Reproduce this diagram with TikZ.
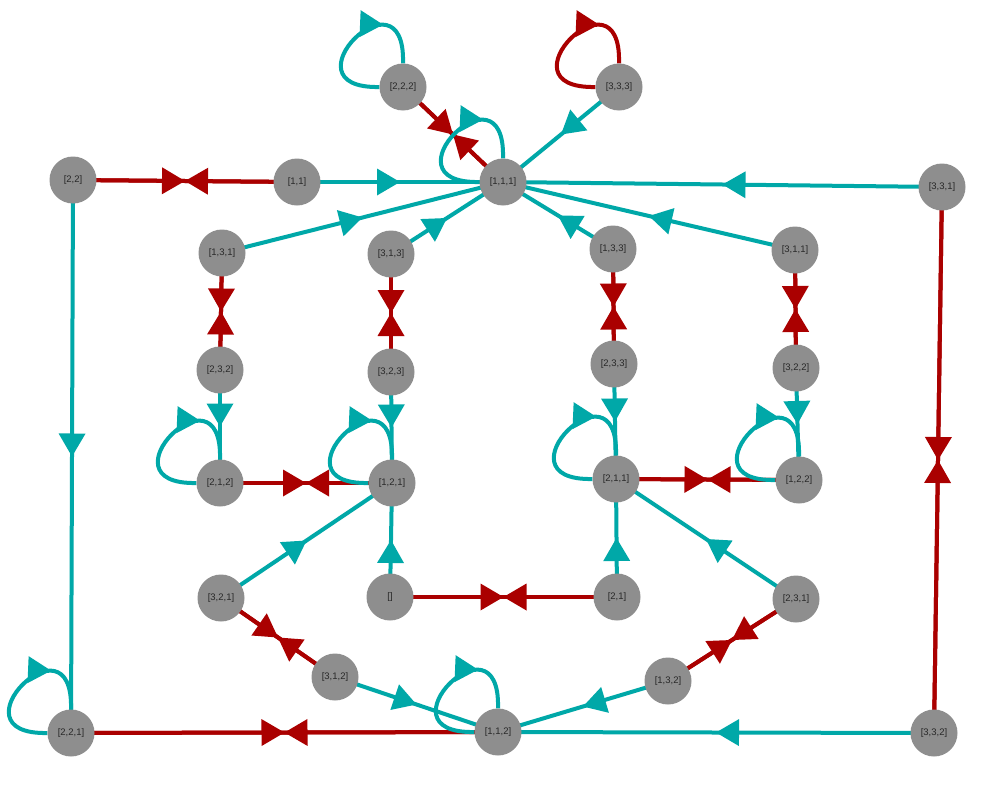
\documentclass[tikz,border=0pt]{standalone}
\usepackage{fontspec}
\setmainfont{Liberation Sans}
\usetikzlibrary{arrows.meta,decorations.markings,backgrounds,calc}
\definecolor{cy}{RGB}{0,168,168}
\definecolor{rd}{RGB}{170,0,0}
\definecolor{nd}{RGB}{142,142,142}
\definecolor{tx}{RGB}{40,40,40}
\tikzset{
  st/.style={circle, fill=nd, minimum size=47pt, inner sep=0pt,
    font=\fontsize{9.5}{10}\selectfont, text=tx},
  tipc/.style={decoration={markings, mark=at position #1 with {\arrow[cy]{Triangle[length=23pt,width=27pt,line width=0pt]}}}, postaction=decorate},
  tipr/.style={decoration={markings, mark=at position #1 with {\arrow[rd]{Triangle[length=23pt,width=27pt,line width=0pt]}}}, postaction=decorate},
  cedge/.style={draw=cy, line width=4pt, tipc=0.5},
  redge/.style={draw=rd, line width=4pt, tipr=0.5},
  cloop/.style={draw=cy, line width=4pt, tipc=0.7},
  rloop/.style={draw=rd, line width=4pt, tipr=0.7},
}
\newcommand\selfloop[2]{\draw[#2] (#1.west) .. controls ($(#1.west)+(-100,2)$) and ($(#1.north)+(3,-100)$) .. (#1.north);}
\newcommand\cc[2]{\draw[cedge] (#1.center) -- (#2.center);}
\newcommand\rr[2]{\draw[redge] (#1.center) -- (#2.center); \draw[redge] (#2.center) -- (#1.center);}
\begin{document}
\begin{tikzpicture}[x=1pt,y=-1pt]
\useasboundingbox (0,0) rectangle (985,787);
\node[st] (n222) at (403,87) {[2,2,2]};
\node[st] (n333) at (619,87) {[3,3,3]};
\node[st] (n111) at (503,182) {[1,1,1]};
\node[st] (n22) at (73,180) {[2,2]};
\node[st] (n11) at (297,182) {[1,1]};
\node[st] (n331) at (942,187) {[3,3,1]};
\node[st] (n131) at (222,253) {[1,3,1]};
\node[st] (n313) at (391,254) {[3,1,3]};
\node[st] (n133) at (613,249) {[1,3,3]};
\node[st] (n311) at (795,250) {[3,1,1]};
\node[st] (n232) at (220,370) {[2,3,2]};
\node[st] (n323) at (391,372) {[3,2,3]};
\node[st] (n233) at (614,364) {[2,3,3]};
\node[st] (n322) at (796,368) {[3,2,2]};
\node[st] (n212) at (220,483) {[2,1,2]};
\node[st] (n121) at (392,483) {[1,2,1]};
\node[st] (n211) at (616,479) {[2,1,1]};
\node[st] (n122) at (799,480) {[1,2,2]};
\node[st] (n321) at (221,598) {[3,2,1]};
\node[st] (n0) at (390,597) {[]};
\node[st] (n21) at (617,597) {[2,1]};
\node[st] (n231) at (796,599) {[2,3,1]};
\node[st] (n312) at (335,677) {[3,1,2]};
\node[st] (n132) at (668,681) {[1,3,2]};
\node[st] (n221) at (71,733) {[2,2,1]};
\node[st] (n112) at (498,732) {[1,1,2]};
\node[st] (n332) at (934,733) {[3,3,2]};
\begin{pgfonlayer}{background}
\fill[white] (0,0) rectangle (985,787);
% cyan directed edges
\cc{n11}{n111}
\cc{n331}{n111}
\cc{n131}{n111}
\cc{n313}{n111}
\cc{n133}{n111}
\cc{n311}{n111}
\cc{n333}{n111}
\cc{n22}{n221}
\cc{n232}{n212}
\cc{n323}{n121}
\cc{n233}{n211}
\cc{n322}{n122}
\cc{n0}{n121}
\cc{n21}{n211}
\cc{n321}{n121}
\cc{n231}{n211}
\cc{n312}{n112}
\cc{n132}{n112}
\cc{n332}{n112}
% red two-way edges
\rr{n22}{n11}
\rr{n222}{n111}
\rr{n131}{n232}
\rr{n313}{n323}
\rr{n133}{n233}
\rr{n311}{n322}
\rr{n212}{n121}
\rr{n211}{n122}
\rr{n0}{n21}
\rr{n321}{n312}
\rr{n231}{n132}
\rr{n221}{n112}
\rr{n331}{n332}
% self loops
\selfloop{n222}{cloop}
\selfloop{n111}{cloop}
\selfloop{n212}{cloop}
\selfloop{n121}{cloop}
\selfloop{n211}{cloop}
\selfloop{n122}{cloop}
\selfloop{n221}{cloop}
\selfloop{n112}{cloop}
\selfloop{n333}{rloop}
\end{pgfonlayer}
\end{tikzpicture}
\end{document}
